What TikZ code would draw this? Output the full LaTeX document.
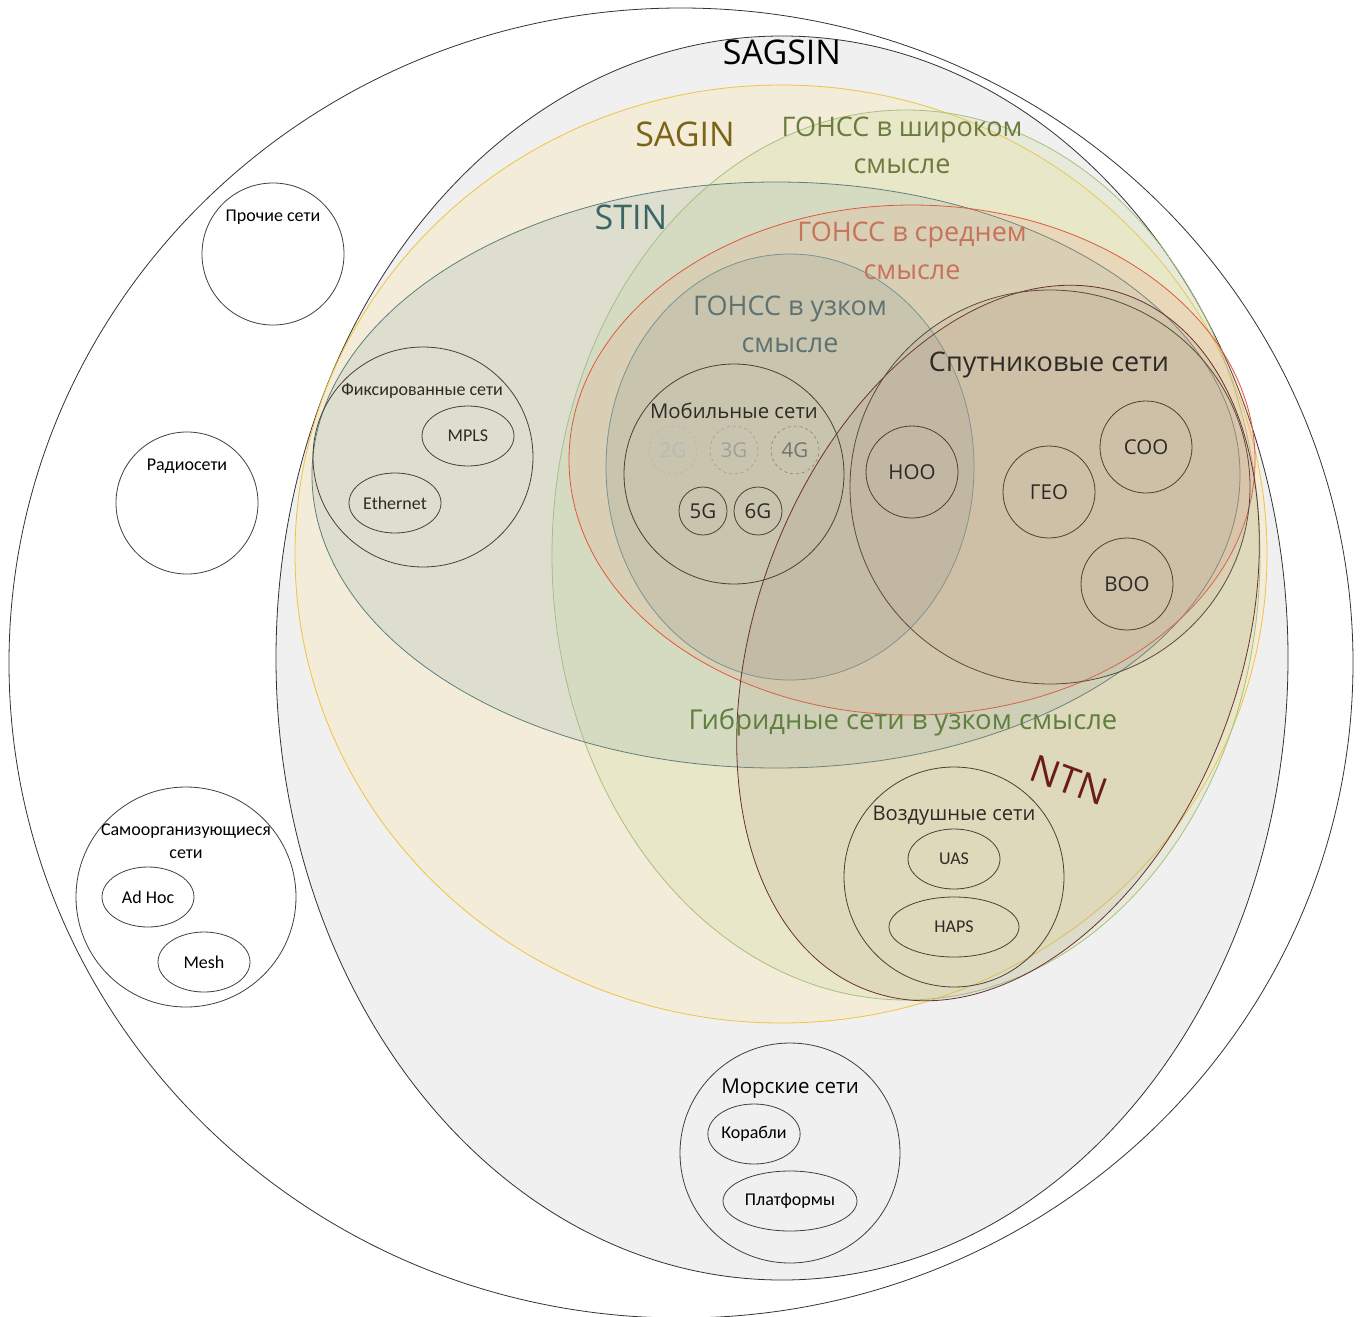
\documentclass[tikz,border=0pt]{standalone}
\usepackage{fontspec}
\setmainfont{Open Sans}
\newfontfamily\calfont{Carlito}
\usetikzlibrary{shapes.geometric}
\definecolor{sagsinfill}{HTML}{F0F0F0}
\definecolor{saginfill}{HTML}{F2ECD9}
\definecolor{saginline}{HTML}{F0C43C}
\definecolor{wideline}{HTML}{A8C080}
\definecolor{widefill}{HTML}{C8D890}
\definecolor{stinline}{HTML}{5F7F7F}
\definecolor{stinfill}{HTML}{A0B8B0}
\definecolor{midline}{HTML}{E0583E}
\definecolor{midfill}{HTML}{E8A080}
\definecolor{narline}{HTML}{7A9494}
\definecolor{narfill}{HTML}{8A9A9A}
\definecolor{ntnline}{HTML}{6A3030}
\definecolor{ntnfill}{HTML}{B09480}
\definecolor{satline}{HTML}{5A4A40}
\definecolor{inkline}{HTML}{4A4038}
\definecolor{tsagin}{HTML}{7D6317}
\definecolor{twide}{HTML}{6B7B3B}
\definecolor{tstin}{HTML}{3E6565}
\definecolor{tmid}{HTML}{C5735A}
\definecolor{tnar}{HTML}{5E7272}
\definecolor{thyb}{HTML}{5F7F3F}
\definecolor{tntn}{HTML}{6B1B1B}
\definecolor{tdark}{HTML}{2E2A26}
\begin{document}
\begin{tikzpicture}[x=1pt,y=-1pt,line width=0.8pt,
  lbl/.style={inner sep=0pt,align=center},
  smallc/.style={circle,draw=inkline,inner sep=0pt,minimum size=92pt,font=\fontsize{20.5}{24}\selectfont,text=tdark},
  gen/.style={circle,draw=inkline,inner sep=0pt,minimum size=48pt,font=\fontsize{20.5}{24}\selectfont,text=tdark},
  oldgen/.style={circle,draw=gray!60,dashed,line width=0.5pt,inner sep=0pt,minimum size=48pt,font=\fontsize{20.5}{24}\selectfont,text=gray!55},
  ell/.style={ellipse,draw=inkline,inner sep=0pt,minimum height=60pt,font=\calfont\fontsize{18}{21}\selectfont,text=tdark},
  bigc/.style={circle,draw=inkline,inner sep=0pt,minimum size=220pt},
  whitec/.style={circle,draw=black!75,inner sep=0pt},
  blackline/.style={draw=black!80}]
\useasboundingbox (0,0) rectangle (1363,1317);
\fill[white] (0,0) rectangle (1363,1317);
% outer
\draw[blackline] (681,663) ellipse [x radius=672pt,y radius=655pt];
% SAGSIN
\filldraw[fill=sagsinfill,blackline] (782,658) ellipse [x radius=506pt,y radius=622pt];
% SAGIN
\filldraw[fill=saginfill,draw=saginline] (781,554) ellipse [x radius=486pt,y radius=469pt];
% GONSS wide
\filldraw[fill=widefill,fill opacity=0.22,draw=wideline] (906,555) ellipse [x radius=354pt,y radius=445pt];
% STIN
\filldraw[fill=stinfill,fill opacity=0.25,draw=stinline] (776,475) ellipse [x radius=464pt,y radius=293pt];
% GONSS mid
\filldraw[fill=midfill,fill opacity=0.2,draw=midline] (912,460) ellipse [x radius=343pt,y radius=255pt];
% GONSS narrow
\filldraw[fill=narfill,fill opacity=0.2,draw=narline] (790,467) ellipse [x radius=184pt,y radius=213pt];
% NTN
\filldraw[fill=ntnfill,fill opacity=0.17,draw=ntnline] (998,643) ellipse [x radius=371pt,y radius=242pt,rotate=69.5];
% Sputnik
\filldraw[fill=ntnfill,fill opacity=0.1,draw=satline] (1050,487) ellipse [x radius=200pt,y radius=197pt];

% inner circles
\node[bigc] (mob) at (734,474) {};
\node[bigc] (fix) at (423,457) {};
\node[bigc] (air) at (954,877) {};
\node[bigc,draw=black!75] (sea) at (790,1153) {};
\node[whitec,minimum size=142pt] (other) at (273,254) {};
\node[whitec,minimum size=142pt] (radio) at (187,503) {};
\node[whitec,minimum size=220pt] (selforg) at (186,897) {};

% generations
\node[oldgen] (g2) at (673,450) {2G};
\node[oldgen,text=gray!75,draw=gray!80] (g3) at (734,450) {3G};
\node[oldgen,text=gray!90!black,draw=gray!95!black] (g4) at (795,450) {4G};
\node[gen] (g5) at (703,511) {5G};
\node[gen] (g6) at (758,511) {6G};

% orbits
\node[smallc] (leo) at (912,472) {НОО};
\node[smallc] (geo) at (1049,492) {ГЕО};
\node[smallc] (meo) at (1146,447) {СОО};
\node[smallc] (heo) at (1127,584) {ВОО};

% ellipses
\node[ell,minimum width=92pt] (mpls) at (468,436) {MPLS};
\node[ell,minimum width=92pt] (eth) at (395,503) {Ethernet};
\node[ell,minimum width=92pt] (uas) at (954,859) {UAS};
\node[ell,minimum width=130pt] (haps) at (954,927) {HAPS};
\node[ell,minimum width=92pt,draw=black!75,text=black] (adhoc) at (148,897) {Ad Hoc};
\node[ell,minimum width=92pt,draw=black!75,text=black] (mesh) at (204,962) {Mesh};
\node[ell,minimum width=92pt,draw=black!75,text=black] (ships) at (754,1134) {Корабли};
\node[ell,minimum width=134pt,draw=black!75,text=black] (plat) at (790,1201) {Платформы};

% labels
\node[lbl,font=\fontsize{34}{38}\selectfont] (tsagsin) at (782,52) {SAGSIN};
\node[lbl,font=\fontsize{34}{38}\selectfont,text=tsagin] (tsaginl) at (685,134) {SAGIN};
\node[lbl,font=\fontsize{27}{37}\selectfont,text=twide] (twidel) at (902,145) {ГОНСС в широком\\смысле};
\node[lbl,font=\fontsize{34}{38}\selectfont,text=tstin] (tstinl) at (631,217) {STIN};
\node[lbl,font=\fontsize{27}{38}\selectfont,text=tmid] (tmidl) at (912,251) {ГОНСС в среднем\\смысле};
\node[lbl,font=\fontsize{27}{37}\selectfont,text=tnar] (tnarl) at (790,324) {ГОНСС в узком\\смысле};
\node[lbl,font=\fontsize{20.3}{24}\selectfont,text=tdark] (tmob) at (734,411) {Мобильные сети};
\node[lbl,font=\fontsize{27}{31}\selectfont,text=tdark] (tsat) at (1049,365) {Спутниковые сети};
\node[lbl,font=\fontsize{27.4}{31}\selectfont,text=thyb] (thybl) at (903,722) {Гибридные сети в узком смысле};
\node[lbl,font=\fontsize{38}{42}\selectfont,text=tntn,rotate=-20] (tntnl) at (1069,780) {NTN};
\node[lbl,font=\fontsize{20.2}{24}\selectfont,text=tdark] (tair) at (954,816) {Воздушные сети};
\node[lbl,font=\calfont\fontsize{18}{21}\selectfont,text=tdark] (tfix) at (422,391) {Фиксированные сети};
\node[lbl,font=\calfont\fontsize{18}{21}\selectfont] (tother) at (273,217) {Прочие сети};
\node[lbl,font=\calfont\fontsize{18}{21}\selectfont] (tradio) at (187,466) {Радиосети};
\node[lbl,font=\calfont\fontsize{18}{23}\selectfont] (tself) at (186,841) {Самоорганизующиеся\\сети};
\node[lbl,font=\fontsize{20.5}{24}\selectfont] (tsea) at (790,1089) {Морские сети};
\end{tikzpicture}
\end{document}
